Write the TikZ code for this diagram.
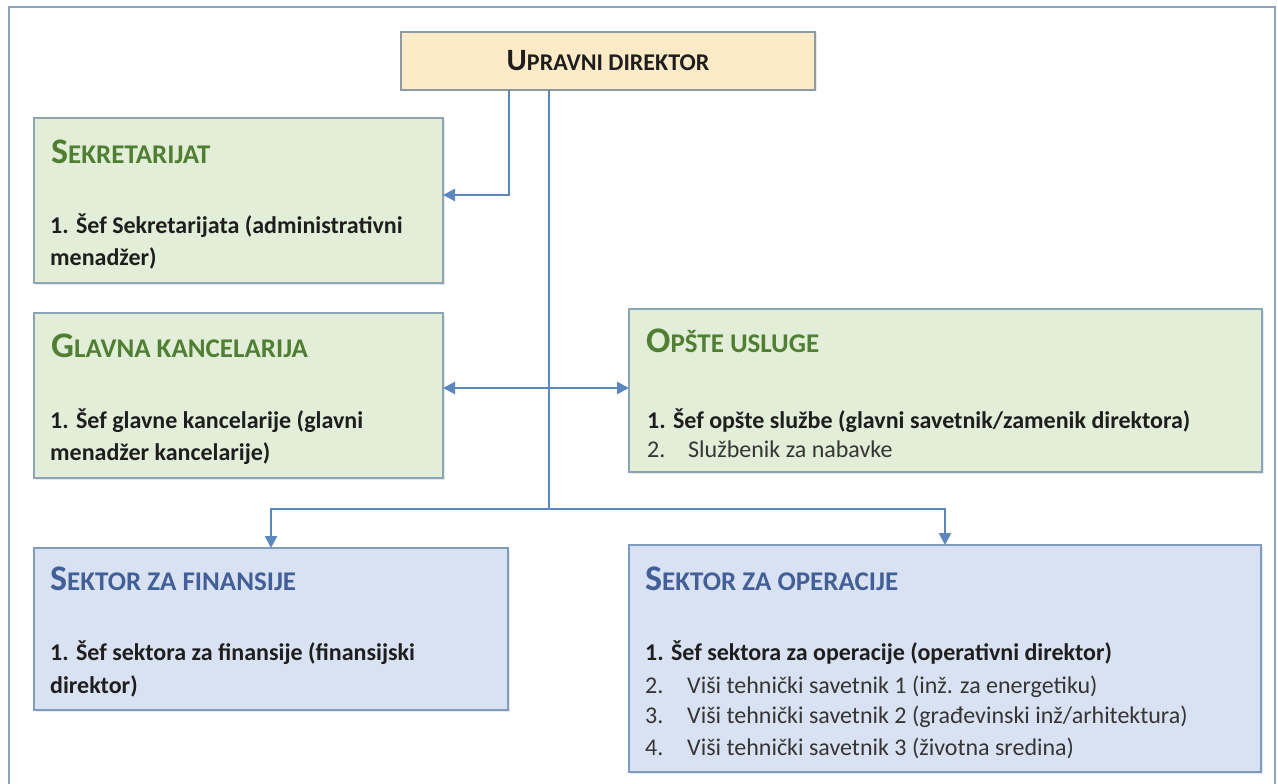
\documentclass[tikz,border=0pt]{standalone}
\usepackage{fontspec}
\setmainfont{Carlito}
\usetikzlibrary{arrows.meta,shadows}
\definecolor{conncol}{HTML}{5B87BE}
\definecolor{framecol}{HTML}{8AA3C0}
\definecolor{udfill}{HTML}{FDEBC8}
\definecolor{udline}{HTML}{8E9AA4}
\definecolor{gfill}{HTML}{E2EED8}
\definecolor{gline}{HTML}{8CA4B6}
\definecolor{bfill}{HTML}{D9E2F2}
\definecolor{bline}{HTML}{7F9CC0}
\definecolor{ghead}{HTML}{507F34}
\definecolor{bhead}{HTML}{425F98}
\definecolor{bodytxt}{HTML}{1E1E1E}
\newcommand\hdtxt[2]{{\fontsize{36}{36}\selectfont #1}{\fontsize{27}{27}\selectfont #2}}
\begin{document}
\begin{tikzpicture}[x=1pt,y=-1pt,
  boxbase/.style={rectangle, inner sep=0pt, outer sep=0pt, line width=1.5pt, anchor=north west,
    drop shadow={shadow xshift=1.5pt, shadow yshift=-1.5pt, opacity=0.18}},
  udbox/.style={boxbase, fill=udfill, draw=udline},
  greenbox/.style={boxbase, fill=gfill, draw=gline},
  bluebox/.style={boxbase, fill=bfill, draw=bline},
  ghd/.style={anchor=base west, inner sep=0pt, text=ghead, font=\bfseries},
  bhd/.style={anchor=base west, inner sep=0pt, text=bhead, font=\bfseries},
  bodyb/.style={anchor=base west, inner sep=0pt, text=bodytxt, font=\fontsize{24}{32}\selectfont\bfseries},
  bodyr/.style={anchor=base west, inner sep=0pt, text=bodytxt!90, font=\fontsize{24}{32}\selectfont},
  conn/.style={draw=conncol, line width=2.5pt},
  tip/.style={-{Triangle[length=12pt,width=12pt]}},
  twotip/.style={{Triangle[length=12pt,width=12pt]}-{Triangle[length=12pt,width=12pt]}}
]
\useasboundingbox (0,0) rectangle (1278,784);
\fill[white] (0,0) rectangle (1278,784);
\draw[framecol, line width=1.8pt] (9,7) rectangle (1275,800);

% boxes
\node[udbox, minimum width=414pt, minimum height=58pt] (ud) at (401,32) {};
\node[greenbox, minimum width=409pt, minimum height=165pt] (sek) at (34,118) {};
\node[greenbox, minimum width=409pt, minimum height=165pt] (gl) at (34,313) {};
\node[greenbox, minimum width=633pt, minimum height=163pt] (opu) at (629,309) {};
\node[bluebox, minimum width=474pt, minimum height=162pt] (fin) at (34,548) {};
\node[bluebox, minimum width=632pt, minimum height=227pt] (ops) at (629,545) {};

% top box text
\node[inner sep=0pt, text=bodytxt, font=\bfseries] (udt) at (ud.center) {{\fontsize{31}{31}\selectfont U}{\fontsize{24}{24}\selectfont PRAVNI DIREKTOR}};

% Sekretarijat
\node[ghd] (sekh) at (51,163) {\hdtxt{S}{EKRETARIJAT}};
\node[bodyb] (sek1) at (50,233) {1. Šef Sekretarijata (administrativni};
\node[bodyb] (sek2) at (50,265) {menadžer)};

% Glavna kancelarija
\node[ghd] (glh) at (51,357) {\hdtxt{G}{LAVNA KANCELARIJA}};
\node[bodyb] (gl1) at (50,428) {1. Šef glavne kancelarije (glavni};
\node[bodyb] (gl2) at (50,460) {menadžer kancelarije)};

% Opste usluge
\node[ghd] (opuh) at (646,352) {\hdtxt{O}{PŠTE USLUGE}};
\node[bodyb] (opu1) at (647,428) {1. Šef opšte službe (glavni savetnik/zamenik direktora)};
\node[bodyr] (opu2n) at (647,457) {2.};
\node[bodyr] (opu2) at (688,457) {Službenik za nabavke};

% Sektor za finansije
\node[bhd] (finh) at (50,590) {\hdtxt{S}{EKTOR ZA FINANSIJE}};
\node[bodyb] (fin1) at (50,660) {1. Šef sektora za finansije (finansijski};
\node[bodyb] (fin2) at (50,693) {direktor)};

% Sektor za operacije
\node[bhd] (opsh) at (645,590) {\hdtxt{S}{EKTOR ZA OPERACIJE}};
\node[bodyb] (ops1) at (645,660) {1. Šef sektora za operacije (operativni direktor)};
\node[bodyr] (ops2n) at (645,693) {2.};
\node[bodyr] (ops2) at (687,693) {Viši tehnički savetnik 1 (inž. za energetiku)};
\node[bodyr] (ops3n) at (645,723) {3.};
\node[bodyr] (ops3) at (687,723) {Viši tehnički savetnik 2 (građevinski inž/arhitektura)};
\node[bodyr] (ops4n) at (645,755) {4.};
\node[bodyr] (ops4) at (687,755) {Viši tehnički savetnik 3 (životna sredina)};

% connectors
\coordinate (c1) at (509,195);
\coordinate (trunk) at (549,509);
\coordinate (mid) at (549,388);
\draw[conn, tip] (ud.south -| c1) |- (sek.east |- c1);
\draw[conn] (ud.south -| trunk) -- (trunk);
\draw[conn, twotip] (fin.north) |- (trunk) -| (ops.north);
\draw[conn, twotip] (gl.east |- mid) -- (opu.west |- mid);
\end{tikzpicture}
\end{document}
